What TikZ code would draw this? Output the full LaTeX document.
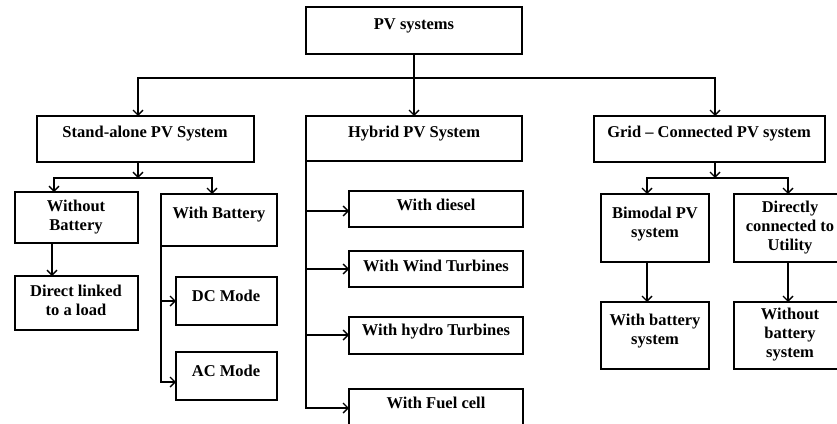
\documentclass[tikz,border=0pt]{standalone}
\usepackage{fontspec}
\setmainfont{Liberation Serif}
\usetikzlibrary{arrows.meta}
\tikzset{
  box/.style={draw, line width=1.4pt, anchor=north west, inner sep=0pt, outer sep=0pt},
  txt/.style={font=\fontsize{16.5}{19}\selectfont\bfseries, align=center, inner sep=0pt, yshift=-2pt},
  arr/.style={line width=1.4pt, -{Straight Barb[length=5pt,width=10pt,line width=1.4pt]}},
  ln/.style={line width=1.4pt}
}
\begin{document}
\begin{tikzpicture}[x=1pt,y=-1pt]
\useasboundingbox (0,0) rectangle (837,423);
\clip (0,0) rectangle (837,423);
% boxes
\node[box, minimum width=216pt, minimum height=47pt] (pv) at (306,7) {};
\node[box, minimum width=217pt, minimum height=46pt] (sa) at (37,116) {};
\node[box, minimum width=216pt, minimum height=45pt] (hy) at (306,116) {};
\node[box, minimum width=231pt, minimum height=46pt] (gr) at (594,116) {};
\node[box, minimum width=123pt, minimum height=51pt] (wob) at (15,192) {};
\node[box, minimum width=116pt, minimum height=52pt] (wb) at (161,194) {};
\node[box, minimum width=123pt, minimum height=54pt] (dl) at (15,276) {};
\node[box, minimum width=101pt, minimum height=48pt] (dc) at (176,277) {};
\node[box, minimum width=101pt, minimum height=48pt] (ac) at (176,352) {};
\node[box, minimum width=174pt, minimum height=36pt] (di) at (349,191) {};
\node[box, minimum width=174pt, minimum height=36pt] (wi) at (349,251) {};
\node[box, minimum width=174pt, minimum height=37pt] (hd) at (349,317) {};
\node[box, minimum width=174pt, minimum height=50pt] (fc) at (349,389) {};
\node[box, minimum width=108pt, minimum height=68pt] (bi) at (601,194) {};
\node[box, minimum width=112pt, minimum height=68pt] (dr) at (734,194) {};
\node[box, minimum width=108pt, minimum height=67pt] (wbs) at (601,302) {};
\node[box, minimum width=112pt, minimum height=67pt] (wobs) at (734,302) {};
% texts
\node[txt] (tpv) at (414,24) {PV systems};
\node[txt] (tsa) at (145,132) {Stand-alone PV System};
\node[txt] (thy) at (414,132) {Hybrid PV System};
\node[txt] (tgr) at (709,132) {Grid -- Connected PV system};
\node[txt] (twob) at (76,215.5) {Without\\Battery};
\node[txt] (twb) at (219,213) {With Battery};
\node[txt] (tdl) at (76,298) {Direct linked\\to a load};
\node[txt] (tdc) at (226,294) {DC Mode};
\node[txt] (tac) at (226,369) {AC Mode};
\node[txt] (tdi) at (436,203) {With diesel};
\node[txt] (twi) at (436,264) {With Wind Turbines};
\node[txt] (thd) at (436,330) {With hydro Turbines};
\node[txt] (tfc) at (436,401) {With Fuel cell};
\node[txt] (tbi) at (655,222.5) {Bimodal PV\\system};
\node[txt] (tdr) at (790,226) {Directly\\connected to\\Utility};
\node[txt] (twbs) at (655,329) {With battery\\system};
\node[txt] (twobs) at (790,333) {Without\\battery\\system};
% connectors
\coordinate (bus) at (414,78);
\coordinate (sab) at (138,178);
\coordinate (grb) at (715,178);
\draw[arr] (pv.south) -- (hy.north);
\draw[arr] (bus) -| ([xshift=101pt]sa.north west);
\draw[arr] (bus) -| ([xshift=121pt]gr.north west);
\draw[arr] ([xshift=101pt]sa.south west) -- (sab);
\draw[arr] (sab) -| ([xshift=39pt]wob.north west);
\draw[arr] (sab) -| ([xshift=51pt]wb.north west);
\draw[arr] ([xshift=37pt]wob.south west) -- ([xshift=37pt]dl.north west);
\draw[arr] (wb.south west) |- ([yshift=-24pt]dc.north west);
\draw[arr] (wb.south west) |- ([yshift=-30pt]ac.north west);
\draw[arr] (hy.south west) |- ([yshift=-20pt]di.north west);
\draw[arr] (hy.south west) |- ([yshift=-18pt]wi.north west);
\draw[arr] (hy.south west) |- ([yshift=-18pt]hd.north west);
\draw[arr] (hy.south west) |- ([yshift=-19pt]fc.north west);
\draw[arr] ([xshift=121pt]gr.south west) -- (grb);
\draw[arr] (grb) -| ([xshift=46pt]bi.north west);
\draw[arr] (grb) -| ([xshift=54pt]dr.north west);
\draw[arr] ([xshift=46pt]bi.south west) -- ([xshift=46pt]wbs.north west);
\draw[arr] ([xshift=54pt]dr.south west) -- ([xshift=54pt]wobs.north west);
\end{tikzpicture}
\end{document}
